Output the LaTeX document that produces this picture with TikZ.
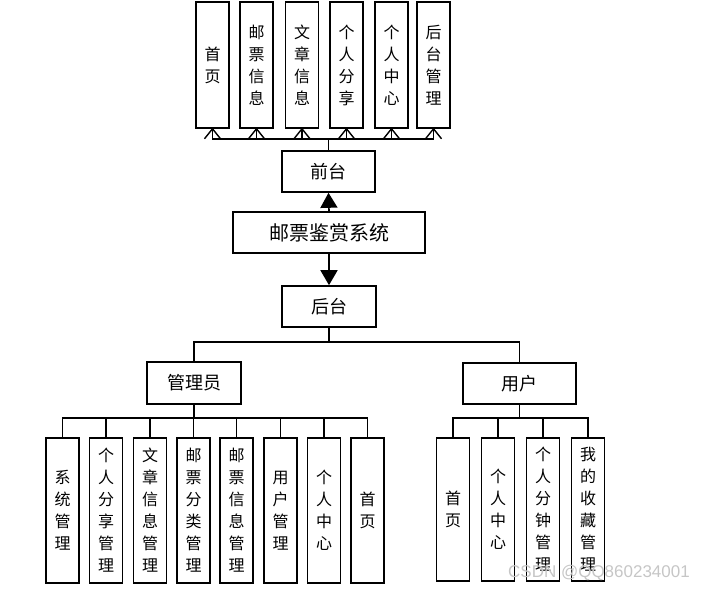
\documentclass[tikz,border=0pt]{standalone}
\usepackage{fontspec}
\setmainfont{Noto Sans CJK SC}
\newfontfamily\wmfont{Liberation Sans}
\usetikzlibrary{arrows.meta}
\begin{document}
\begin{tikzpicture}[x=1pt,y=-1pt,
  box/.style={draw=black,line width=1.6pt,fill=white,inner sep=0pt,align=center},
  vbox/.style={box,minimum width=33pt,font=\fontsize{16}{22}\selectfont},
  hbox/.style={box,font=\fontsize{18}{22}\selectfont},
  conn/.style={line width=1.6pt},
  vtip/.style={line width=1.4pt},
  fillarr/.style={conn,-{Triangle[length=15pt,width=17pt]}}]
\useasboundingbox (0,0) rectangle (702,592);
% top row
\node[vbox,minimum height=126pt] (t1) at (212.5,65) {首\\页};
\node[vbox,minimum height=126pt] (t2) at (256.5,65) {邮\\票\\信\\息};
\node[vbox,minimum height=126pt] (t3) at (302,65) {文\\章\\信\\息};
\node[vbox,minimum height=126pt] (t4) at (346.5,65) {个\\人\\分\\享};
\node[vbox,minimum height=126pt] (t5) at (391.5,65) {个\\人\\中\\心};
\node[vbox,minimum height=126pt] (t6) at (433.5,65) {后\\台\\管\\理};
% middle
\node[hbox,minimum width=93pt,minimum height=41pt] (qt) at (328.5,171.5) {前台};
\node[box,minimum width=192pt,minimum height=41pt,font=\fontsize{20}{24}\selectfont] (sys) at (329,232.5) {邮票鉴赏系统};
\node[hbox,minimum width=94pt,minimum height=41pt] (ht) at (329,306.5) {后台};
\node[hbox,minimum width=94pt,minimum height=42pt] (gly) at (194,383) {管理员};
\node[hbox,minimum width=113pt,minimum height=41pt] (yh) at (519.5,383.5) {用户};
% admin children
\node[vbox,minimum height=145pt] (a1) at (62.5,510.5) {系\\统\\管\\理};
\node[vbox,minimum height=145pt] (a2) at (106,510.5) {个\\人\\分\\享\\管\\理};
\node[vbox,minimum height=145pt] (a3) at (150,510.5) {文\\章\\信\\息\\管\\理};
\node[vbox,minimum height=145pt] (a4) at (193.5,510.5) {邮\\票\\分\\类\\管\\理};
\node[vbox,minimum height=145pt] (a5) at (236.5,510.5) {邮\\票\\信\\息\\管\\理};
\node[vbox,minimum height=145pt] (a6) at (280.5,510.5) {用\\户\\管\\理};
\node[vbox,minimum height=145pt] (a7) at (324,510.5) {个\\人\\中\\心};
\node[vbox,minimum height=145pt] (a8) at (367.5,510.5) {首\\页};
% user children
\node[vbox,minimum height=143pt] (u1) at (453,509.5) {首\\页};
\node[vbox,minimum height=143pt] (u2) at (498,509.5) {个\\人\\中\\心};
\node[vbox,minimum height=143pt] (u3) at (543,509.5) {个\\人\\分\\钟\\管\\理};
\node[vbox,minimum height=143pt] (u4) at (588,509.5) {我\\的\\收\\藏\\管\\理};
% connectors top, with open V tips
\foreach \t in {t1,t2,t3,t4,t5,t6}{
  \draw[conn] (qt.north) -- ++(0,-11) -| (\t.south);
  \draw[vtip] (\t.south) ++(-8,10) -- (\t.south) -- ++(8,10);
}
\draw[fillarr] (sys.north) -- (qt.south);
\draw[fillarr] (sys.south) -- (ht.north);
\draw[conn] (ht.south) -- ++(0,14) -| (gly.north);
\draw[conn] (ht.south) -- ++(0,14) -| (yh.north);
\foreach \a in {a1,a2,a3,a4,a5,a6,a7,a8}
  \draw[conn] (gly.south) -- ++(0,13) -| (\a.north);
\foreach \u in {u1,u2,u3,u4}
  \draw[conn] (yh.south) -- ++(0,13) -| (\u.north);
\node[text=gray!45,font=\wmfont\fontsize{17}{20}\selectfont] (wm) at (599,573) {CSDN @QQ860234001};
\end{tikzpicture}
\end{document}
